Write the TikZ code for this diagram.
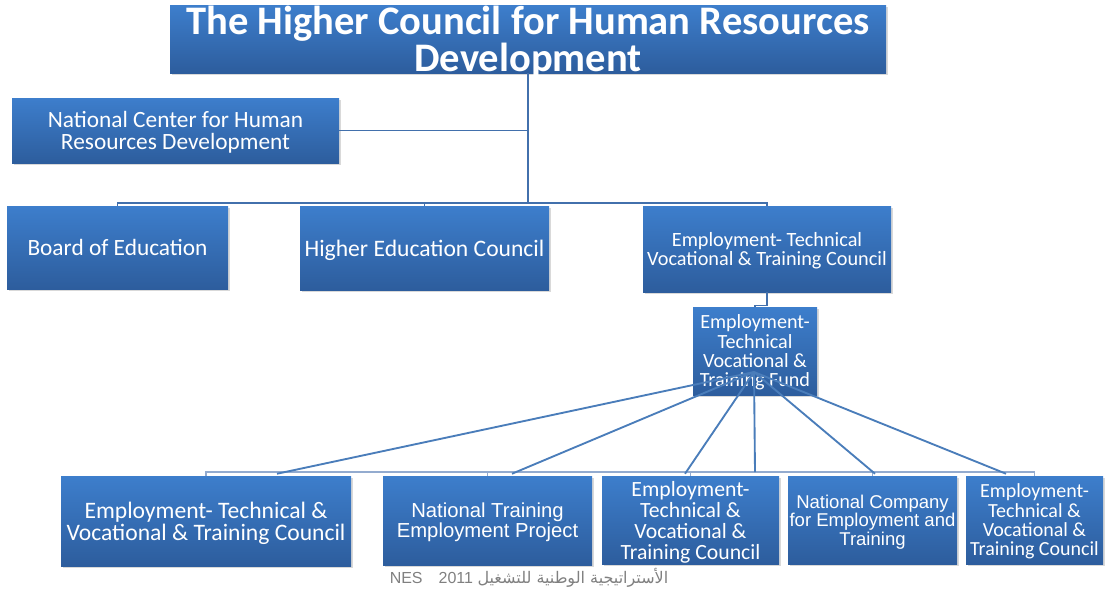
\documentclass[tikz,border=0pt]{standalone}
\usepackage{fontspec}
\setmainfont{Carlito}
\newfontfamily\arialfont{Liberation Sans}
\newfontfamily\arabicfont[Script=Arabic]{DejaVu Sans}
\TeXXeTstate=1
\usetikzlibrary{calc,shadows}
\definecolor{boxtop}{HTML}{3D7ECC}
\definecolor{boxbot}{HTML}{2D5D9D}
\definecolor{linkcol}{HTML}{4270AC}
\definecolor{fancol}{HTML}{4A7DBA}
\definecolor{buscol}{HTML}{93ABCF}
\definecolor{notecol}{HTML}{808080}
\newcommand{\fs}[2]{\fontsize{#1}{#2}\selectfont}
\tikzset{
  orgbox/.style={rectangle, top color=boxtop, bottom color=boxbot, text=white,
    align=center, inner sep=0pt, text depth=0pt,
    drop shadow={shadow xshift=1.2pt, shadow yshift=-1.5pt, opacity=0.3}},
  link/.style={draw=linkcol, line width=0.8pt},
  fanline/.style={draw=fancol, line width=1.4pt},
  busline/.style={draw=buscol, line width=1pt}
}

\begin{document}
\begin{tikzpicture}[x=0.75pt,y=-0.75pt]
  \useasboundingbox (0,0) rectangle (1105,589);
  % top level
  \node[orgbox, minimum width=537pt, minimum height=51pt,
        font=\bfseries\fs{30.4}{27.75}] (title) at (528,39)
        {The Higher Council for Human Resources\\Development};
  \node[orgbox, minimum width=245.25pt, minimum height=48.75pt, font=\fs{17.5}{16.5}]
        (nchrd) at (175.5,130.5) {National Center for Human\\Resources Development};
  % councils
  \node[orgbox, minimum width=165.75pt, minimum height=62.25pt, font=\fs{17.5}{17}]
        (board) at (117.5,247.5) {Board of Education};
  \node[orgbox, minimum width=186.75pt, minimum height=63pt, font=\fs{17.7}{17}]
        (higher) at (424.5,248) {Higher Education Council};
  \node[orgbox, minimum width=186pt, minimum height=64.5pt, font=\fs{15.2}{14.25}]
        (evtc) at (767,249) {Employment- Technical\\Vocational \& Training Council};
  \node[orgbox, minimum width=93pt, minimum height=66pt, font=\fs{15.1}{14.5}]
        (fund) at (755,351) {Employment-\\Technical\\Vocational \&\\Training Fund};
  % bottom row
  \node[orgbox, minimum width=217.5pt, minimum height=67.5pt, font=\fs{17.7}{16.5}]
        (vtcA) at (206,521) {Employment- Technical \&\\Vocational \& Training Council};
  \node[orgbox, minimum width=156.75pt, minimum height=66.75pt, font=\arialfont\fs{15.2}{12.75}]
        (ntep) at (487.5,520.5) {National Training\\Employment Project};
  \node[orgbox, minimum width=132.75pt, minimum height=66pt, font=\fs{16.3}{15.75}]
        (vtcB) at (690.5,520) {Employment-\\Technical \&\\Vocational \&\\Training Council};
  \node[orgbox, minimum width=126.75pt, minimum height=66pt, font=\arialfont\fs{13.9}{12.4}]
        (ncet) at (872.5,520) {National Company\\for Employment and\\Training};
  \node[orgbox, minimum width=102.75pt, minimum height=66pt, font=\fs{15}{14.5}]
        (vtcC) at (1034.5,520) {Employment-\\Technical \&\\Vocational \&\\Training Council};

  % connectors
  \coordinate (hub) at (528,203);
  \draw[link] (title.south) -- (hub);
  \draw[link] (nchrd.east) -- (nchrd.east -| hub);
  \draw[link] (board.north) |- (hub) -| (evtc.north);
  \draw[link] (higher.north) |- (hub);
  \draw[link] (evtc.south) -- ++(0,13) -| (fund.north);

  \coordinate (bus) at (755,472);
  \draw[busline] (vtcA.north) |- (bus) -| (vtcC.north);
  \foreach \n in {ntep,vtcB,ncet}
    \draw[busline] (\n.north) |- (bus);

  \coordinate (fork) at (754,372);
  \draw[fanline] (fork) -- ($(vtcA.north)+(71,-2)$);
  \draw[fanline] (fork) -- ($(ntep.north)+(24.5,-2)$);
  \draw[fanline] (fork) -- ($(vtcB.north)+(-5.5,-2)$);
  \draw[fanline] (fork) -- (bus);
  \draw[fanline] (fork) -- ($(ncet.north)+(2.5,-2)$);
  \draw[fanline] (fork) -- ($(vtcC.north)+(-28.5,-2)$);

  \node[text=notecol, font=\arialfont\fs{12}{14}] (note) at (529,578)
    {NES\quad 2011 {\arabicfont\beginR الأستراتيجية الوطنية للتشغيل\endR}};
\end{tikzpicture}
\end{document}
